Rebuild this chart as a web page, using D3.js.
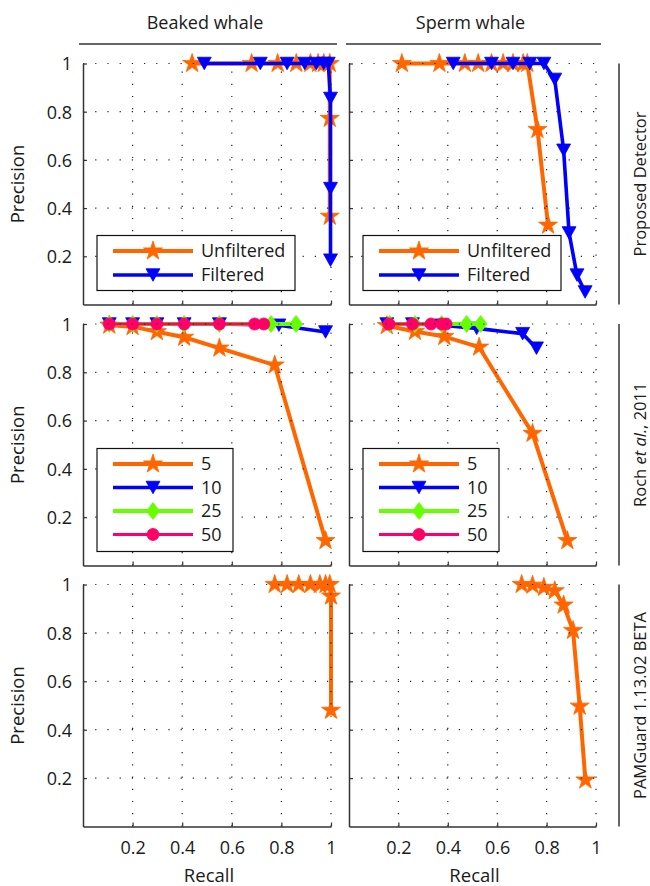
<!DOCTYPE html>
<html>
<head>
<meta charset="utf-8">
<script src="https://cdn.jsdelivr.net/npm/d3@7"></script>
<style>
  html, body { margin: 0; padding: 0; background: #fff; }
  svg { display: block; font-family: "Open Sans", "DejaVu Sans", sans-serif; }
</style>
</head>
<body>
<svg id="chart" width="650" height="886"></svg>
<script>
// ---- data: precision / recall curves ----
const columns = ["Beaked whale", "Sperm whale"];
const rowLabels = ["Proposed Detector", "Roch et al., 2011", "PAMGuard 1.13.02 BETA"];
const xTicks = [0.2, 0.4, 0.6, 0.8, 1];
const yTicks = [0.2, 0.4, 0.6, 0.8, 1];

// Proposed detector
const bwUnfilteredRecall    = [0.44, 0.68, 0.785, 0.86, 0.917, 0.948, 0.971, 0.995, 0.995, 0.995];
const bwUnfilteredPrecision = [1, 1, 1, 1, 1, 1, 1, 1, 0.772, 0.366];
const bwFilteredRecall      = [0.489, 0.715, 0.823, 0.894, 0.941, 0.971, 0.989, 0.998, 0.998, 0.998];
const bwFilteredPrecision   = [1, 1, 1, 1, 1, 1, 1, 0.855, 0.481, 0.184];
const swUnfilteredRecall    = [0.214, 0.366, 0.469, 0.523, 0.577, 0.624, 0.664, 0.705, 0.722, 0.763, 0.806];
const swUnfilteredPrecision = [1, 1, 1, 1, 1, 1, 1, 1, 1, 0.726, 0.329];
const swFilteredRecall      = [0.422, 0.577, 0.664, 0.732, 0.789, 0.833, 0.869, 0.891, 0.923, 0.956];
const swFilteredPrecision   = [1, 1, 1, 1, 1, 0.934, 0.64, 0.297, 0.122, 0.052];

// Roch et al., 2011 (legend: 5, 10, 25, 50)
const bwRoch5Recall     = [0.106, 0.2, 0.298, 0.408, 0.55, 0.773, 0.978];
const bwRoch5Precision  = [0.995, 0.989, 0.968, 0.945, 0.9, 0.83, 0.103];
const bwRoch10Recall    = [0.106, 0.2, 0.298, 0.408, 0.55, 0.79, 0.978];
const bwRoch10Precision = [1, 1, 1, 1, 1, 0.995, 0.967];
const bwRoch25Recall    = [0.106, 0.2, 0.298, 0.408, 0.55, 0.758, 0.859];
const bwRoch25Precision = [1, 1, 1, 1, 1, 1, 1];
const bwRoch50Recall    = [0.106, 0.2, 0.298, 0.408, 0.55, 0.692, 0.729];
const bwRoch50Precision = [1, 1, 1, 1, 1, 1, 1];
const swRoch5Recall     = [0.153, 0.267, 0.386, 0.527, 0.743, 0.884];
const swRoch5Precision  = [0.993, 0.969, 0.948, 0.904, 0.547, 0.103];
const swRoch10Recall    = [0.153, 0.257, 0.375, 0.517, 0.703, 0.759];
const swRoch10Precision = [1, 1, 0.995, 0.982, 0.96, 0.9];
const swRoch25Recall    = [0.164, 0.267, 0.375, 0.476, 0.533];
const swRoch25Precision = [1, 1, 1, 1, 1];
const swRoch50Recall    = [0.162, 0.257, 0.332, 0.375, 0.393];
const swRoch50Precision = [1, 1, 1, 1, 1];

// PAMGuard
const bwPamRecall    = [0.773, 0.823, 0.87, 0.917, 0.955, 0.978, 0.995, 1.0, 1.0];
const bwPamPrecision = [1, 1, 1, 1, 1, 1, 1, 0.952, 0.48];
const swPamRecall    = [0.699, 0.743, 0.789, 0.833, 0.869, 0.907, 0.934, 0.957];
const swPamPrecision = [1, 0.997, 0.988, 0.974, 0.915, 0.81, 0.497, 0.192];

// ---- styles ----
const ORANGE = "#ff6600", BLUE = "#0000ff", GREEN = "#66ff00", PINK = "#ff0066";
const styles = {
  star:     { color: ORANGE, width: 4,   marker: "star" },
  tri:      { color: BLUE,   width: 3.6, marker: "tri" },
  diamond:  { color: GREEN,  width: 4,   marker: "diamond" },
  circle:   { color: PINK,   width: 3.2, marker: "circle" }
};

function zip(xs, ys) { return xs.map((x, i) => ({ x, y: ys[i] })); }

const panels = [
  { row: 0, col: 0, legendWidth: 198,
    series: [ { name: "Unfiltered", s: styles.star, pts: zip(bwUnfilteredRecall, bwUnfilteredPrecision) },
              { name: "Filtered",   s: styles.tri,  pts: zip(bwFilteredRecall, bwFilteredPrecision) } ] },
  { row: 0, col: 1, legendWidth: 198,
    series: [ { name: "Unfiltered", s: styles.star, pts: zip(swUnfilteredRecall, swUnfilteredPrecision) },
              { name: "Filtered",   s: styles.tri,  pts: zip(swFilteredRecall, swFilteredPrecision) } ] },
  { row: 1, col: 0, legendWidth: 136,
    series: [ { name: "5",  s: styles.star,    pts: zip(bwRoch5Recall, bwRoch5Precision) },
              { name: "10", s: styles.tri,     pts: zip(bwRoch10Recall, bwRoch10Precision) },
              { name: "25", s: styles.diamond, pts: zip(bwRoch25Recall, bwRoch25Precision) },
              { name: "50", s: styles.circle,  pts: zip(bwRoch50Recall, bwRoch50Precision) } ] },
  { row: 1, col: 1, legendWidth: 136,
    series: [ { name: "5",  s: styles.star,    pts: zip(swRoch5Recall, swRoch5Precision) },
              { name: "10", s: styles.tri,     pts: zip(swRoch10Recall, swRoch10Precision) },
              { name: "25", s: styles.diamond, pts: zip(swRoch25Recall, swRoch25Precision) },
              { name: "50", s: styles.circle,  pts: zip(swRoch50Recall, swRoch50Precision) } ] },
  { row: 2, col: 0, series: [ { name: "PAMGuard", s: styles.star, pts: zip(bwPamRecall, bwPamPrecision) } ] },
  { row: 2, col: 1, series: [ { name: "PAMGuard", s: styles.star, pts: zip(swPamRecall, swPamPrecision) } ] }
];

// ---- layout ----
const colX = [[83, 331], [349, 596]];
const rowY = [[304.5, 63.5], [565.5, 324], [826.5, 584.5]];

const svg = d3.select("#chart");
svg.append("rect").attr("width", 650).attr("height", 886).attr("fill", "#fff");

const AXIS = "#333";
const TEXT = "#1a1a1a";

// marker shapes
const triDown = {
  draw(ctx, size) {
    const w = Math.sqrt(size) * 1.45, h = w * 0.9;
    ctx.moveTo(-w / 2, -h / 2); ctx.lineTo(w / 2, -h / 2); ctx.lineTo(0, h / 2); ctx.closePath();
  }
};
const diamondType = {
  draw(ctx, size) {
    const w = Math.sqrt(size) * 1.25, h = w * 1.3;
    ctx.moveTo(0, -h / 2); ctx.lineTo(w / 2, 0); ctx.lineTo(0, h / 2); ctx.lineTo(-w / 2, 0); ctx.closePath();
  }
};
function markerPath(kind) {
  if (kind === "star") return d3.symbol().type(d3.symbolStar).size(112)();
  if (kind === "tri") return d3.symbol().type(triDown).size(92)();
  if (kind === "diamond") return d3.symbol().type(diamondType).size(108)();
  return d3.symbol().type(d3.symbolCircle).size(115)();
}

panels.forEach(p => {
  const x = d3.scaleLinear().domain([0, 1]).range(colX[p.col]);
  const y = d3.scaleLinear().domain([0, 1]).range(rowY[p.row]);
  const g = svg.append("g");

  // data lines + markers
  const line = d3.line().x(d => x(d.x)).y(d => y(d.y));
  p.series.forEach(se => {
    g.append("path").datum(se.pts).attr("d", line)
      .attr("fill", "none").attr("stroke", se.s.color)
      .attr("stroke-width", se.s.width).attr("stroke-linejoin", "round");
    const mp = markerPath(se.s.marker);
    g.selectAll(null).data(se.pts).enter().append("path")
      .attr("d", mp)
      .attr("transform", d => `translate(${x(d.x)},${y(d.y)})`)
      .attr("fill", se.s.color).attr("stroke", se.s.color).attr("stroke-width", 0.8);
  });

  // dotted grid, drawn above the data
  const grid = svg.append("g");
  grid.selectAll(null).data(xTicks).enter().append("line")
    .attr("x1", d => x(d)).attr("x2", d => x(d))
    .attr("y1", y(0)).attr("y2", y(1))
    .attr("stroke", "#222").attr("stroke-width", 1.2).attr("stroke-dasharray", "1.2,11");
  grid.selectAll(null).data(yTicks).enter().append("line")
    .attr("y1", d => y(d)).attr("y2", d => y(d))
    .attr("x1", x(0)).attr("x2", x(1))
    .attr("stroke", "#222").attr("stroke-width", 1.2).attr("stroke-dasharray", "1.2,11");

  // axes (left + bottom), ticks inward
  const xAxis = d3.axisBottom(x).tickValues(xTicks).tickSizeInner(-4).tickSizeOuter(0)
    .tickFormat(p.row === 2 ? d3.format("~g") : () => "");
  const ax = svg.append("g").attr("transform", `translate(0,${y(0)})`).call(xAxis);
  const yAxis = d3.axisLeft(y).tickValues(yTicks).tickSizeInner(-4).tickSizeOuter(0)
    .tickFormat(p.col === 0 ? d3.format("~g") : () => "");
  const ay = svg.append("g").attr("transform", `translate(${x(0)},0)`).call(yAxis);
  [ax, ay].forEach(a => {
    a.select(".domain").attr("stroke", AXIS).attr("stroke-width", 1.5);
    a.selectAll(".tick line").attr("stroke", AXIS).attr("stroke-width", 1.2);
    a.selectAll(".tick text").attr("fill", TEXT).style("font-size", "18px")
      .style("font-family", "'Open Sans', sans-serif");
  });
  ax.selectAll(".tick text").attr("dy", "0").attr("y", 27);
  ay.selectAll(".tick text").attr("x", -11).attr("dy", "0.35em");

  // y label
  if (p.col === 0) {
    svg.append("text")
      .attr("transform", `translate(24,${(y(0) + y(1)) / 2}) rotate(-90)`)
      .attr("text-anchor", "middle").attr("fill", TEXT).style("font-size", "18.5px")
      .text("Precision");
  }
  if (p.row === 2) {
    svg.append("text").attr("x", (x(0) + x(1)) / 2 + 2).attr("y", 882)
      .attr("text-anchor", "middle").attr("fill", TEXT).style("font-size", "18.5px")
      .text("Recall");
  }

  // legend
  if (p.legendWidth) {
    const rowH = p.series.length === 2 ? 24 : 23.5;
    const boxH = p.series.length === 2 ? 55 : 103;
    const bx = x(0) + 14, by = y(0) - 14 - boxH;
    const lg = svg.append("g").attr("transform", `translate(${bx},${by})`);
    lg.append("rect").attr("width", p.legendWidth).attr("height", boxH)
      .attr("fill", "#fff").attr("stroke", "#111").attr("stroke-width", 1.2);
    p.series.forEach((se, i) => {
      const cy = 15.5 + i * rowH;
      lg.append("line").attr("x1", 16).attr("x2", 96).attr("y1", cy).attr("y2", cy)
        .attr("stroke", se.s.color).attr("stroke-width", se.s.width);
      lg.append("path").attr("d", markerPath(se.s.marker))
        .attr("transform", `translate(56,${cy})`)
        .attr("fill", se.s.color).attr("stroke", se.s.color).attr("stroke-width", 0.8);
      lg.append("text").attr("x", 104).attr("y", cy).attr("dy", "0.35em")
        .attr("fill", TEXT).style("font-size", "18px").text(se.name);
    });
  }
});

// column headers
columns.forEach((c, i) => {
  const [a, b] = colX[i];
  svg.append("text").attr("x", (a + b) / 2 - 2).attr("y", 29)
    .attr("text-anchor", "middle").attr("fill", TEXT).style("font-size", "18px").text(c);
  svg.append("line").attr("x1", i === 0 ? 79 : 346).attr("x2", i === 0 ? 337 : 601)
    .attr("y1", 44).attr("y2", 44).attr("stroke", AXIS).attr("stroke-width", 1.5);
});

// row labels on the right
rowLabels.forEach((r, i) => {
  const [y0, y1] = rowY[i];
  svg.append("line").attr("x1", 619).attr("x2", 619).attr("y1", y1).attr("y2", y0)
    .attr("stroke", AXIS).attr("stroke-width", 1.5);
  const t = svg.append("text")
    .attr("transform", `translate(646,${(y0 + y1) / 2}) rotate(-90)`)
    .attr("text-anchor", "middle").attr("fill", TEXT).style("font-size", "16.5px");
  if (i === 1) {
    t.append("tspan").text("Roch  ");
    t.append("tspan").style("font-style", "italic").text("et al.");
    t.append("tspan").text(", 2011");
  } else {
    t.text(r);
  }
});
</script>
</body>
</html>
